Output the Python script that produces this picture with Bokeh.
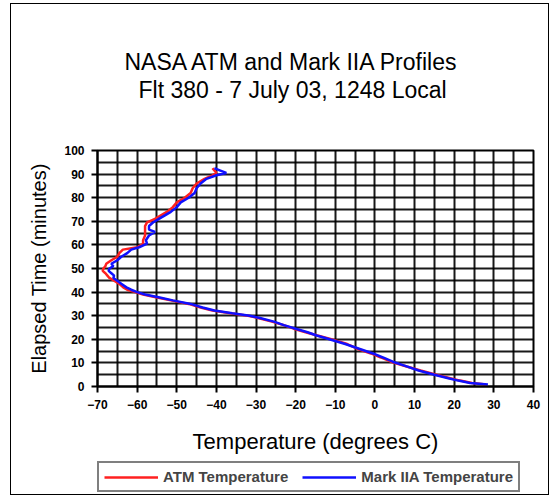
from bokeh.plotting import figure
from bokeh.layouts import column
from bokeh.models import (Range1d, FixedTicker, SingleIntervalTicker, Title, Legend,
                          LegendItem)
from bokeh.embed import file_html
from bokeh.resources import INLINE

# ---- data ----
time_min = [0.8, 1.5, 2.5, 3.5, 5.0, 6.8, 8.5, 10.5, 12.3, 14.0,
            16.0, 18.0, 20.0, 21.6, 23.0, 24.5, 26.0, 27.5, 29.0, 30.0,
            31.0, 32.2, 33.5, 35.0, 36.5, 37.7, 39.0, 40.0, 41.0, 42.0,
            43.5, 45.0, 46.0, 47.0, 48.0, 49.0, 50.0, 51.0, 52.0, 53.5,
            55.0, 56.5, 58.0, 59.0, 60.5, 62.0, 64.0, 65.5, 66.5, 68.0,
            69.5, 71.0, 72.5, 74.0, 76.0, 78.0, 80.0, 82.0, 84.0, 86.0,
            88.0, 89.5, 90.5, 91.5, 92.5]

atm_temp = [28, 24.5, 21.5, 19, 15.5, 11.5, 8, 4, 1.5, -1,
            -4.5, -7, -11, -14.5, -17.5, -20.5, -23, -26, -29.5, -32,
            -36.5, -41, -44, -47, -51.5, -55, -58.5, -60.5, -62.5, -63.5,
            -64.5, -66, -67, -67.5, -68, -68.7, -68.5, -68, -67.8, -66.5,
            -65, -64.5, -63.6, -60, -58.5, -58.5, -58, -58, -58, -58,
            -57.5, -55.5, -54, -52.5, -51, -50, -48, -46.5, -46, -45,
            -43, -41, -40, -40.5, -41]

mark2a_temp = [28.5, 24, 21, 18.5, 15, 11, 8, 4.5, 2, -0.5,
               -4, -7.5, -11.5, -14.7, -17, -20, -23, -25.5, -29, -31.6,
               -36, -40.5, -43.5, -46.5, -51, -54.3, -58, -60, -61.5, -62.7,
               -64, -65.2, -66, -65.8, -66.5, -67.2, -67, -66, -66.5, -65,
               -64, -62.5, -61.5, -59.5, -57.5, -57.8, -57, -55.5, -57, -57,
               -56, -54.5, -53, -51.5, -50, -49, -47, -45.5, -45, -44,
               -42.5, -40, -37.5, -39, -40.5]

x_ticks = [-70, -60, -50, -40, -30, -20, -10, 0, 10, 20, 30, 40]
y_ticks = [0, 10, 20, 30, 40, 50, 60, 70, 80, 90, 100]

title_lines = ["NASA ATM and Mark IIA Profiles", "Flt 380 - 7 July 03,  1248 Local"]
series_names = ["ATM Temperature", "Mark IIA Temperature"]
series_colors = ["#ff2020", "#1010ff"]

FONT = "Liberation Sans"
W = 537

p = figure(width=W, height=454, output_backend="svg", toolbar_location=None,
           x_range=Range1d(-70, 40), y_range=Range1d(0, 100),
           min_border_left=86, min_border_right=15, min_border_top=146,
           min_border_bottom=72)

# two-line title: a spacer nearest the frame, then line 2, then line 1 (plot title)
p.add_layout(Title(text=" ", standoff=45, text_font_size="1px"), "above")
p.add_layout(Title(text=title_lines[1], align="left", offset=41, standoff=0,
                   text_font=FONT, text_font_size="23px",
                   text_font_style="normal", text_color="black"), "above")
p.title.text = title_lines[0]
p.title.align = "left"
p.title.offset = 27
p.title.standoff = 0
p.title.text_font = FONT
p.title.text_font_size = "23px"
p.title.text_font_style = "normal"
p.title.text_color = "black"

p.outline_line_color = "black"
p.outline_line_width = 2

# grid every 5 units, black
p.xgrid.ticker = SingleIntervalTicker(interval=5)
p.ygrid.ticker = SingleIntervalTicker(interval=5)
for g in (p.xgrid, p.ygrid):
    g.grid_line_color = "black"
    g.grid_line_width = 2
    g.grid_line_alpha = 0.9

p.xaxis.ticker = FixedTicker(ticks=x_ticks)
p.yaxis.ticker = FixedTicker(ticks=y_ticks)
for ax in (p.xaxis, p.yaxis):
    ax.axis_line_color = "black"
    ax.axis_line_width = 2
    ax.major_tick_line_color = "black"
    ax.major_tick_line_width = 2
    ax.major_tick_out = 6
    ax.major_tick_in = 0
    ax.minor_tick_line_color = None
    ax.major_label_text_font = FONT
    ax.major_label_text_font_size = "12px"
    ax.major_label_text_font_style = "bold"
    ax.major_label_text_color = "black"
    ax.axis_label_text_font = FONT
    ax.axis_label_text_font_style = "normal"
    ax.axis_label_text_color = "black"

p.xaxis.axis_label = "Temperature (degrees C)"
p.xaxis.axis_label_text_font_size = "22px"
p.xaxis.major_label_standoff = 7
p.xaxis.axis_label_standoff = 17

p.yaxis.axis_label = "Elapsed Time (minutes)"
p.yaxis.axis_label_text_font_size = "20px"
p.yaxis.major_label_standoff = 7
p.yaxis.axis_label_standoff = 11

p.line(atm_temp, time_min, line_color=series_colors[0], line_width=2.5)
p.line(mark2a_temp, time_min, line_color=series_colors[1], line_width=2.5)

# legend strip below the chart (its own small canvas, frame aligned with the chart's)
lf = figure(width=W, height=36, output_backend="svg", toolbar_location=None,
            x_axis_type=None, y_axis_type=None, x_range=Range1d(0, 1),
            y_range=Range1d(0, 1), min_border=0)
lf.outline_line_color = None
lf.xgrid.visible = False
lf.ygrid.visible = False
items = []
for name, col in zip(series_names, series_colors):
    # legend-only renderer: a single missing point, so nothing is drawn in the strip
    r = lf.line([float("nan")], [float("nan")], line_color=col, line_width=2.5)
    items.append(LegendItem(label=name, renderers=[r]))
legend = Legend(items=items, orientation="horizontal", location=(0, 2),
                border_line_color="black", border_line_width=2,
                label_text_font=FONT, label_text_font_size="15px",
                label_text_font_style="bold",
                glyph_width=54, glyph_height=14, label_standoff=5,
                spacing=14, padding=5, margin=0)
lf.add_layout(legend, "center")

page = column(p, lf, spacing=0,
              styles={"border": "1.5px solid black", "margin-left": "10px",
                      "margin-top": "3px"})

open("out.html", "w").write(file_html(page, INLINE))
